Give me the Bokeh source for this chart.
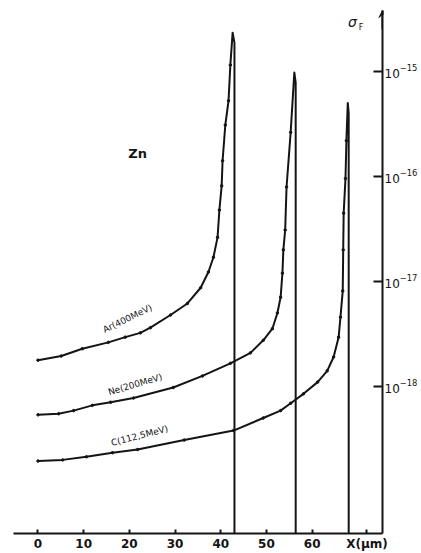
from bokeh.plotting import figure
from bokeh.models import Range1d, FixedTicker, Arrow, VeeHead
from bokeh.core.properties import value
from bokeh.embed import file_html
from bokeh.resources import INLINE
import math

# ---- data ----
x_ticks = [0, 10, 20, 30, 40, 50, 60, 72]
x_tick_labels = {72: "X(\u03bcm)"}
y_ticks = [1e-18, 1e-17, 1e-16, 1e-15]

ar_x = [0, 5.1, 9.7, 15.4, 19.1, 22.4, 24.6, 29.0, 32.7, 35.6, 37.3, 38.4, 39.3, 39.7,
        40.2, 40.4, 41.0, 41.7, 42.1, 42.6]
ar_y = [1.78e-18, 1.95e-18, 2.29e-18, 2.63e-18, 2.95e-18, 3.24e-18, 3.63e-18, 4.79e-18,
        6.17e-18, 8.71e-18, 1.23e-17, 1.70e-17, 2.63e-17, 4.79e-17, 8.13e-17, 1.41e-16,
        3.09e-16, 5.25e-16, 1.15e-15, 2.34e-15]
ar_drop = 43.0

ne_x = [0, 4.5, 7.8, 11.9, 15.9, 20.9, 29.6, 36.0, 42.1, 46.5, 49.3, 51.3, 52.4, 53.1,
        53.5, 53.7, 54.1, 54.4, 55.3, 56.1]
ne_y = [5.37e-19, 5.50e-19, 5.89e-19, 6.61e-19, 7.08e-19, 7.76e-19, 9.77e-19, 1.26e-18,
        1.66e-18, 2.09e-18, 2.75e-18, 3.55e-18, 5.01e-18, 7.08e-18, 1.20e-17, 2.00e-17,
        3.09e-17, 7.94e-17, 2.63e-16, 9.77e-16]
ne_drop = 56.4

c_x = [0, 5.4, 10.6, 16.3, 21.8, 32.0, 42.8, 49.3, 53.1, 55.3, 58.1, 61.2, 63.3, 64.7,
       65.8, 66.2, 66.7, 66.8, 66.9, 67.3, 67.5, 67.8]
c_y = [1.95e-19, 2.00e-19, 2.14e-19, 2.34e-19, 2.51e-19, 3.09e-19, 3.80e-19, 5.01e-19,
       5.89e-19, 6.92e-19, 8.51e-19, 1.10e-18, 1.41e-18, 1.91e-18, 2.95e-18, 4.57e-18,
       8.13e-18, 2.00e-17, 4.47e-17, 9.55e-17, 2.19e-16, 5.01e-16]
c_drop = 68.0

sigma_floor = 10 ** -19.4
sigma_top = 10 ** -14.42

curve_names = ["Ar(400MeV)", "Ne(200MeV)", "C(112,5MeV)"]
name_x = [14.8, 15.7, 16.3]
name_y = [3.1e-18, 7.9e-19, 2.6e-19]
name_angle_deg = [26, 16.5, 14.5]

ink = "#141414"

p = figure(width=421, height=553,
           x_range=Range1d(-5.36, 75.4), y_range=Range1d(sigma_floor, sigma_top),
           y_axis_type="log", y_axis_location="right",
           output_backend="svg", toolbar_location=None,
           min_border_left=13, min_border_right=39, min_border_top=10, min_border_bottom=20)
p.outline_line_color = None
p.grid.visible = False
p.background_fill_color = "white"
p.border_fill_color = "white"

# x axis
xa = p.xaxis[0]
xa.ticker = FixedTicker(ticks=x_ticks)
xa.major_label_overrides = x_tick_labels
xa.major_tick_in = 4
xa.major_tick_out = 0
xa.minor_tick_line_color = None
xa.axis_line_width = 2
xa.axis_line_color = ink
xa.major_tick_line_width = 2
xa.major_tick_line_color = ink
xa.major_label_standoff = 3
xa.major_label_text_font = "DejaVu Sans"
xa.major_label_text_font_size = "12px"
xa.major_label_text_font_style = "bold"
xa.major_label_text_color = ink

# y axis (right)
ya = p.yaxis[0]
ya.ticker = FixedTicker(ticks=y_ticks)
ya.major_tick_in = 9
ya.major_tick_out = 0
ya.minor_tick_line_color = None
ya.axis_line_width = 2
ya.axis_line_color = ink
ya.major_tick_line_width = 2
ya.major_tick_line_color = ink
ya.major_label_standoff = 2
ya.major_label_text_font = "DejaVu Sans"
ya.major_label_text_font_size = "12px"
ya.major_label_text_color = ink

p.add_layout(Arrow(x_start=75.4, y_start=10 ** -14.6, x_end=75.4, y_end=sigma_top,
                   line_color=ink, line_width=2,
                   end=VeeHead(size=7, line_color=ink, fill_color=ink, line_width=1)))

for xs, ys, xd in [(ar_x, ar_y, ar_drop), (ne_x, ne_y, ne_drop), (c_x, c_y, c_drop)]:
    p.line(xs + [xd, xd], ys + [ys[-1] * 0.8, sigma_floor], line_color=ink, line_width=2,
           line_join="round")
    p.scatter(xs[:-1], ys[:-1], size=2.5, color=ink)

p.text(x=name_x, y=name_y, text=curve_names,
       angle=[math.radians(a) for a in name_angle_deg],
       text_font=value("DejaVu Sans"), text_font_size="9px", text_color=ink,
       text_align="left", text_baseline="bottom")

p.text(x=[21.8], y=[10 ** -15.78], text=["Zn"], text_font=value("DejaVu Sans"),
       text_font_size="13px", text_font_style="bold", text_color=ink,
       text_align="center", text_baseline="middle")

p.text(x=[68.8], y=[10 ** -14.53], text=["\u03c3"], text_font=value("DejaVu Sans"),
       text_font_size="14px", text_font_style="italic", text_color=ink,
       text_align="center", text_baseline="middle")
p.text(x=[70.2], y=[10 ** -14.58], text=["F"], text_font=value("DejaVu Sans"),
       text_font_size="8px", text_color=ink,
       text_align="left", text_baseline="middle")

open("out.html", "w").write(file_html(p, INLINE))
